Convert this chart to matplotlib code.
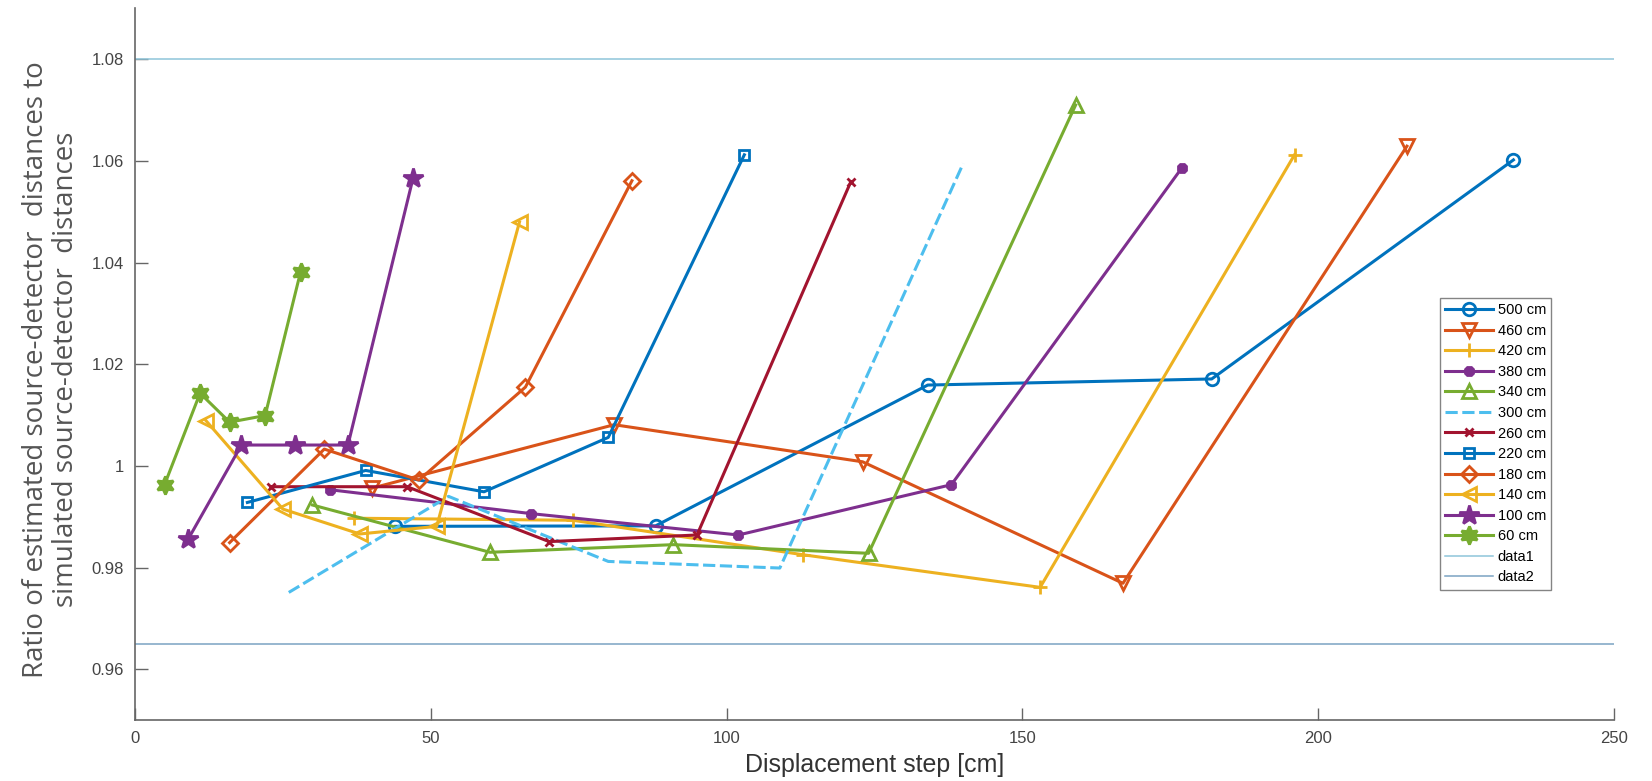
import matplotlib
matplotlib.use('Agg')
import matplotlib.pyplot as plt

# series values (displacement step [cm] -> ratio)
labels = ['500 cm', '460 cm', '420 cm', '380 cm', '340 cm', '300 cm',
          '260 cm', '220 cm', '180 cm', '140 cm', '100 cm', '60 cm']

steps_500 = [44, 88, 134, 182, 233]
ratio_500 = [0.9881, 0.9882, 1.0159, 1.0171, 1.0602]
steps_460 = [40, 81, 123, 167, 215]
ratio_460 = [0.9956, 1.0081, 1.0008, 0.9769, 1.0629]
steps_420 = [37, 74, 113, 153, 196]
ratio_420 = [0.9897, 0.9893, 0.9825, 0.9761, 1.0612]
steps_380 = [33, 67, 102, 138, 177]
ratio_380 = [0.9953, 0.9906, 0.9864, 0.9963, 1.0587]
steps_340 = [30, 60, 91, 124, 159]
ratio_340 = [0.9923, 0.9830, 0.9845, 0.9828, 1.0710]
steps_300 = [26, 53, 80, 109, 140]
ratio_300 = [0.9751, 0.9940, 0.9812, 0.9799, 1.0595]
steps_260 = [23, 46, 70, 95, 121]
ratio_260 = [0.9959, 0.9959, 0.9851, 0.9864, 1.0559]
steps_220 = [19, 39, 59, 80, 103]
ratio_220 = [0.9928, 0.9991, 0.9949, 1.0056, 1.0612]
steps_180 = [16, 32, 48, 66, 84]
ratio_180 = [0.9849, 1.0033, 0.9972, 1.0155, 1.0561]
steps_140 = [12, 25, 38, 51, 65]
ratio_140 = [1.0089, 0.9915, 0.9866, 0.9881, 1.0480]
steps_100 = [9, 18, 27, 36, 47]
ratio_100 = [0.9856, 1.0041, 1.0041, 1.0041, 1.0566]
steps_60 = [5, 11, 16, 22, 28]
ratio_60 = [0.9963, 1.0143, 1.0086, 1.0099, 1.0382]

ref_labels = ['data1', 'data2']
ref_levels = [1.08, 0.965]

xticks = [0, 50, 100, 150, 200, 250]
yticks = [0.96, 0.98, 1.00, 1.02, 1.04, 1.06, 1.08]

steps = [steps_500, steps_460, steps_420, steps_380, steps_340, steps_300,
         steps_260, steps_220, steps_180, steps_140, steps_100, steps_60]
ratios = [ratio_500, ratio_460, ratio_420, ratio_380, ratio_340, ratio_300,
          ratio_260, ratio_220, ratio_180, ratio_140, ratio_100, ratio_60]

# matlab default colour order
blue, orange, yellow, purple, green, cyan, red = ('#0072BD', '#D95319', '#EDB120',
                                                  '#7E2F8E', '#77AC30', '#4DBEEE', '#A2142F')
styles = [
    dict(color=blue, marker='o', mfc='none', ms=9),
    dict(color=orange, marker='v', mfc='none', ms=10),
    dict(color=yellow, marker='+', ms=10),
    dict(color=purple, marker='8', ms=7),
    dict(color=green, marker='^', mfc='none', ms=10),
    dict(color=cyan, marker=None, ls=(0, (4, 1.5))),
    dict(color=red, marker='x', ms=6),
    dict(color=blue, marker='s', mfc='none', ms=7),
    dict(color=orange, marker='D', mfc='none', ms=8),
    dict(color=yellow, marker='<', mfc='none', ms=10),
    dict(color=purple, marker='*', ms=15),
    dict(color=green, marker=(6, 1, 0), ms=13),
]

plt.rcParams['font.family'] = ['Liberation Sans', 'DejaVu Sans']

fig = plt.figure(figsize=(16.52, 7.81), dpi=100)
ax = fig.add_axes([0.0817, 0.0781, 0.8953, 0.9111])

for x, y, lab, st in zip(steps, ratios, labels, styles):
    st = dict(st)
    ls = st.pop('ls', '-')
    ax.plot(x, y, ls=ls, lw=2.2, mew=2, label=lab, **st)

for lev, lab, col in zip(ref_levels, ref_labels, ['#8ec5da', '#7aa3c2']):
    ax.axhline(lev, color=col, lw=1.1, label=lab)

ax.set_xlim(0, 250)
ax.set_ylim(0.95, 1.09)
ax.set_xticks(xticks)
ax.set_yticks(yticks)
ax.set_yticklabels(['%g' % v for v in yticks])
ax.spines['top'].set_visible(False)
ax.spines['right'].set_visible(False)
for s in ['left', 'bottom']:
    ax.spines[s].set_color('#666666')
    ax.spines[s].set_linewidth(1.2)
ax.tick_params(direction='in', length=9, width=1, colors='#666666',
               labelcolor='#444444', labelsize=12, pad=8)

ax.set_xlabel('Displacement step [cm]', fontsize=18, color='#333333', labelpad=5)
fig.text(0.031, 0.527,
         'Ratio of estimated source-detector  distances to\nsimulated source-detector  distances',
         rotation=90, ha='center', va='center', multialignment='center',
         fontsize=20, color='#555555', family=['Open Sans', 'DejaVu Sans'],
         linespacing=1.1)

leg = ax.legend(loc='upper left', bbox_to_anchor=(0.8717, 0.6184),
                bbox_transform=fig.transFigure, fontsize=10.5, frameon=True,
                fancybox=False, edgecolor='#666666', borderaxespad=0,
                handlelength=3.3, labelspacing=0.45, borderpad=0.35,
                handletextpad=0.3)
leg.get_frame().set_linewidth(1)

fig.savefig('out.png', dpi=100)
